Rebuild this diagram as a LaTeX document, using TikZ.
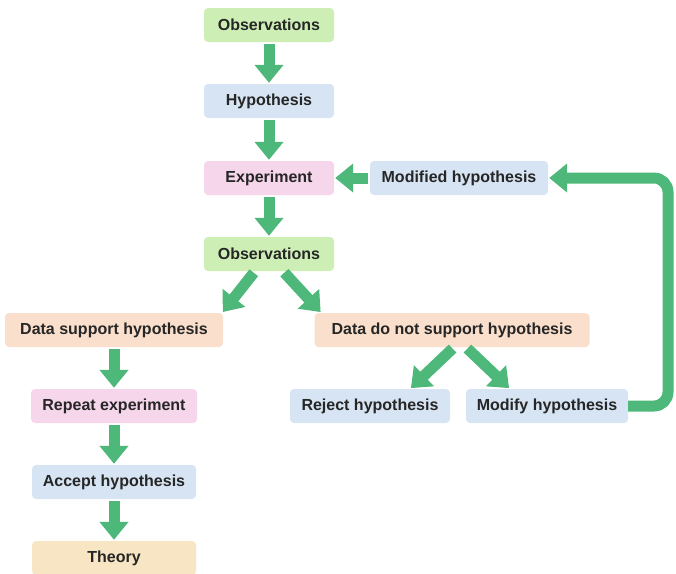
\documentclass[tikz,border=0pt]{standalone}
\usepackage{fontspec}
\setmainfont{Liberation Sans}
\usetikzlibrary{arrows.meta}

\definecolor{boxgreen}{HTML}{CDEFB5}
\definecolor{boxblue}{HTML}{D6E4F3}
\definecolor{boxpink}{HTML}{F6D6EA}
\definecolor{boxpeach}{HTML}{FADFCC}
\definecolor{boxsand}{HTML}{F8E5C3}
\definecolor{arrowgreen}{HTML}{4DB87A}

\tikzset{
  stepbox/.style={rounded corners=4pt, minimum height=34pt, inner sep=2pt,
    font=\fontsize{16}{18}\selectfont\bfseries, text=black!85},
  bigarrow/.style={arrowgreen, line width=11pt,
    -{Triangle[width=28pt,length=18pt]}, shorten <=2pt, shorten >=1pt},
}

\begin{document}
\begin{tikzpicture}[x=1pt, y=-1pt]

\useasboundingbox (0,0) rectangle (676,573);

% main column
\node[stepbox, fill=boxgreen, minimum width=130pt] (obsA) at (269,25) {Observations};
\node[stepbox, fill=boxblue, minimum width=130pt] (hyp) at (269,101) {Hypothesis};
\node[stepbox, fill=boxpink, minimum width=130pt] (exp) at (269,178) {Experiment};
\node[stepbox, fill=boxblue, minimum width=178pt] (modh) at (459,178) {Modified hypothesis};
\node[stepbox, fill=boxgreen, minimum width=130pt] (obsB) at (269,254) {Observations};

% the two outcomes
\node[stepbox, fill=boxpeach, minimum width=218pt] (yes) at (114,330) {Data support hypothesis};
\node[stepbox, fill=boxpeach, minimum width=275pt] (no) at (452,330) {Data do not support hypothesis};

\node[stepbox, fill=boxpink, minimum width=166pt] (rep) at (114,406) {Repeat experiment};
\node[stepbox, fill=boxblue, minimum width=160pt] (rej) at (370,406) {Reject hypothesis};
\node[stepbox, fill=boxblue, minimum width=162pt] (mod) at (547,406) {Modify hypothesis};
\node[stepbox, fill=boxblue, minimum width=164pt] (acc) at (114,482) {Accept hypothesis};
\node[stepbox, fill=boxsand, minimum width=164pt] (theory) at (114,558) {Theory};

\draw[bigarrow] (obsA) -- (hyp);
\draw[bigarrow] (hyp) -- (exp);
\draw[bigarrow] (exp) -- (obsB);
\draw[bigarrow] (modh) -- (exp);

\draw[bigarrow] ([xshift=-14pt]obsB.south) -- ([xshift=-1pt]yes.north east);
\draw[bigarrow] ([xshift=14pt]obsB.south) -- ([xshift=7pt]no.north west);

\draw[bigarrow] (yes) -- (rep);
\draw[bigarrow] (rep) -- (acc);
\draw[bigarrow] (acc) -- (theory);

\draw[bigarrow] ([xshift=2pt]no.south) -- ([xshift=-40pt]rej.north east);
\draw[bigarrow] ([xshift=14pt]no.south) -- ([xshift=44pt]mod.north west);

% loop back
\draw[bigarrow, rounded corners=14pt, shorten <=0pt]
  (mod.east) -| (668,178) -- (modh.east);

\end{tikzpicture}
\end{document}
